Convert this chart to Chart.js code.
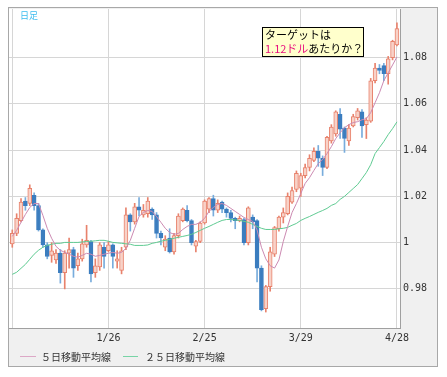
<!DOCTYPE html>
<html>
<head>
<meta charset="utf-8">
<script src="https://cdn.jsdelivr.net/npm/chart.js@4.4.1/dist/chart.umd.min.js"></script>
<style>
  html, body { margin: 0; padding: 0; background: #fff; }
</style>
</head>
<body>
<canvas id="grafico-diario" width="447" height="377"></canvas>
<script>
// DADOS
const abertura = [0.9995, 1.004, 1.0095, 1.018, 1.017, 1.0205, 1.016, 1.0055, 0.999, 0.9945,
    0.9925, 0.9955, 0.987, 0.9955, 0.997, 0.990, 0.993, 0.999, 1.0005, 0.987,
    0.9895, 0.998, 0.9965, 0.999, 0.992, 0.988, 0.998, 1.012, 1.009, 1.0155,
    1.012, 1.0125, 1.0145, 1.012, 1.004, 0.998, 1.002, 0.996, 1.003, 1.0095,
    1.014, 1.0095, 0.9985, 1.0005, 1.0085, 1.0145, 1.019, 1.014, 1.0175, 1.0145,
    1.013, 1.0105, 1.0095, 1.010, 1.0, 1.011, 1.0095, 0.989, 0.9715, 0.981,
    0.995, 1.006, 1.011, 1.0125, 1.0175, 1.023, 1.0235, 1.029, 1.0325, 1.0355,
    1.0395, 1.0365, 1.0325, 1.044, 1.047, 1.0555, 1.0495, 1.044, 1.0505, 1.054,
    1.0565, 1.051, 1.0525, 1.070, 1.0755, 1.0765, 1.073, 1.080, 1.0855]
const maxima = [1.0055, 1.0125, 1.019, 1.0195, 1.025, 1.0215, 1.017, 1.006, 1.0, 1.0,
    0.997, 0.997, 0.9965, 1.002, 0.998, 0.9955, 1.0015, 1.0075, 1.001, 0.993,
    1.0, 1.0, 1.0005, 0.9995, 0.9965, 0.998, 1.015, 1.0125, 1.017, 1.0195,
    1.0165, 1.0195, 1.015, 1.013, 1.005, 1.003, 1.006, 1.004, 1.0125, 1.015,
    1.016, 1.010, 1.001, 1.009, 1.0185, 1.0195, 1.0205, 1.0185, 1.018, 1.015,
    1.014, 1.011, 1.0115, 1.0105, 1.0155, 1.012, 1.010, 0.990, 0.9815, 0.998,
    1.007, 1.0115, 1.015, 1.0215, 1.024, 1.031, 1.030, 1.034, 1.038, 1.041,
    1.042, 1.0375, 1.046, 1.051, 1.057, 1.058, 1.050, 1.051, 1.0555, 1.058,
    1.0575, 1.054, 1.071, 1.0775, 1.077, 1.0775, 1.0805, 1.0875, 1.095]
const minima = [0.998, 1.003, 1.009, 1.014, 1.016, 1.014, 1.005, 0.998, 0.993, 0.9915,
    0.991, 0.9825, 0.980, 0.989, 0.985, 0.988, 0.992, 0.998, 0.983, 0.985,
    0.988, 0.989, 0.996, 0.989, 0.989, 0.9865, 0.997, 1.005, 1.008, 1.0115,
    1.011, 1.011, 1.010, 1.002, 0.999, 0.9965, 0.9955, 0.995, 1.002, 1.009,
    1.009, 0.999, 0.996, 1.0, 1.008, 1.013, 1.0115, 1.013, 1.013, 1.011,
    1.009, 1.006, 1.009, 0.999, 0.999, 1.006, 0.983, 0.9705, 0.970, 0.979,
    0.994, 1.005, 1.0085, 1.012, 1.017, 1.022, 1.020, 1.028, 1.031, 1.035,
    1.033, 1.029, 1.032, 1.043, 1.046, 1.045, 1.039, 1.042, 1.050, 1.053,
    1.0455, 1.045, 1.052, 1.069, 1.073, 1.070, 1.0685, 1.079, 1.085]
const fechamento = [1.004, 1.0105, 1.0175, 1.016, 1.0235, 1.016, 1.0055, 0.999, 0.994, 0.9965,
    0.9955, 0.987, 0.9955, 0.997, 0.989, 0.993, 0.9995, 1.001, 0.9865, 0.990,
    0.999, 0.994, 0.999, 0.994, 0.993, 0.9965, 1.012, 1.009, 1.0155, 1.014,
    1.014, 1.018, 1.012, 1.004, 1.002, 1.0015, 0.996, 1.003, 1.0115, 1.0145,
    1.0095, 1.0, 1.0005, 1.0085, 1.018, 1.019, 1.014, 1.017, 1.0145, 1.013,
    1.0105, 1.0095, 1.0105, 1.0, 1.015, 1.009, 0.989, 0.971, 0.981, 0.996,
    1.0065, 1.011, 1.013, 1.020, 1.0225, 1.030, 1.029, 1.0325, 1.0365, 1.0395,
    1.0365, 1.0325, 1.0455, 1.050, 1.0565, 1.049, 1.045, 1.0495, 1.0545, 1.057,
    1.0505, 1.053, 1.070, 1.0755, 1.0745, 1.073, 1.0795, 1.087, 1.0925]
const media5 = [1.0027, 1.0053, 1.0088, 1.0122, 1.0152, 1.0169, 1.0169, 1.0118, 1.0062, 1.0019,
    0.9984, 0.9967, 0.9958, 0.995, 0.9941, 0.9937, 0.9945, 0.9954, 0.995, 0.9941,
    0.9945, 0.995, 0.9954, 0.9958, 0.9954, 0.9958, 0.9975, 1.001, 1.0062, 1.0113,
    1.0131, 1.0139, 1.0135, 1.0113, 1.0088, 1.0062, 1.0044, 1.0036, 1.004, 1.0057,
    1.007, 1.0079, 1.0079, 1.0088, 1.0105, 1.0135, 1.0152, 1.0165, 1.0169, 1.0161,
    1.0148, 1.0135, 1.0122, 1.0109, 1.010, 1.0092, 1.0055, 0.998, 0.993, 0.990,
    0.989, 0.9925, 1.0005, 1.007, 1.013, 1.0169, 1.0212, 1.0256, 1.0281, 1.0312,
    1.0342, 1.0359, 1.0385, 1.0415, 1.045, 1.0475, 1.0497, 1.051, 1.0519, 1.0523,
    1.0531, 1.0536, 1.0562, 1.0605, 1.0648, 1.070, 1.0734, 1.0768, 1.0803]
const media25 = [0.9863, 0.9872, 0.9889, 0.9906, 0.9928, 0.995, 0.9967, 0.998, 0.9988, 0.9993,
    0.9997, 0.9997, 1.0001, 1.0001, 1.0001, 1.0001, 1.0003, 1.0005, 1.0006, 1.0008,
    1.001, 1.001, 1.0006, 1.0001, 0.9999, 0.9997, 0.9995, 0.9993, 0.9988, 0.9988,
    0.9988, 0.999, 0.9997, 1.0001, 1.0006, 1.001, 1.0014, 1.0019, 1.0023, 1.0027,
    1.0031, 1.0036, 1.0044, 1.0053, 1.0062, 1.007, 1.0079, 1.0088, 1.0096, 1.010,
    1.010, 1.0098, 1.0096, 1.0092, 1.0088, 1.0079, 1.007, 1.0062, 1.0057, 1.0057,
    1.0057, 1.006, 1.0062, 1.0066, 1.0075, 1.0083, 1.0096, 1.0105, 1.0113, 1.0122,
    1.0131, 1.0139, 1.0148, 1.0161, 1.0169, 1.0187, 1.020, 1.0217, 1.0234, 1.0251,
    1.0277, 1.0303, 1.0337, 1.0385, 1.0411, 1.0437, 1.0467, 1.0493, 1.0522]

const posicoesX = [0, 22, 44, 66, 88]
const rotulosX = ['', '1/26', '2/25', '3/29', '4/28']
const valoresY = [0.98, 1.0, 1.02, 1.04, 1.06, 1.08]
const rotulosY = ['0.98', '1', '1.02', '1.04', '1.06', '1.08']

// CORES
const corSobeBorda = '#e8826c'
const corSobeFundo = '#f8d2c8'
const corDesceFundo = '#3b7dbf'
const corDescePavio = '#78acdc'
const corMedia5 = '#cc8ab2'
const corMedia25 = '#5fcb92'

const sobe = i => fechamento[i] >= abertura[i]

var graficoCtx = document.getElementById('grafico-diario').getContext('2d');

var dataGrafico = {
    datasets: [{
        label: '５日移動平均線',
        type: 'line',
        data: media5.map((v, i) => ({ x: i, y: v })),
        borderColor: corMedia5,
        borderWidth: 1,
        pointRadius: 0,
        fill: false,
        order: 0
    }, {
        label: '２５日移動平均線',
        type: 'line',
        data: media25.map((v, i) => ({ x: i, y: v })),
        borderColor: corMedia25,
        borderWidth: 1,
        pointRadius: 0,
        fill: false,
        order: 1
    }, {
        label: 'corpo',
        type: 'bar',
        data: abertura.map((o, i) => ({ x: i, y: [o, fechamento[i]] })),
        backgroundColor: c => sobe(c.dataIndex) ? corSobeFundo : corDesceFundo,
        borderColor: c => sobe(c.dataIndex) ? corSobeBorda : corDesceFundo,
        borderWidth: 1,
        borderSkipped: false,
        barThickness: 4,
        grouped: false,
        order: 2
    }, {
        label: 'pavio',
        type: 'bar',
        data: minima.map((l, i) => ({ x: i, y: [l, maxima[i]] })),
        backgroundColor: c => sobe(c.dataIndex) ? corSobeBorda : corDescePavio,
        borderWidth: 0,
        barThickness: 1,
        grouped: false,
        order: 3
    }]
};

const fonteEixo = { family: 'DejaVu Sans Mono', size: 10 }

var optionsGrafico = {
    responsive: false,
    animation: false,
    devicePixelRatio: 1,
    layout: {
        padding: { left: 9, top: 8, right: 0, bottom: 29 }
    },
    scales: {
        x: {
            type: 'linear',
            min: -0.75,
            max: 88.7,
            offset: false,
            afterBuildTicks: s => { s.ticks = posicoesX.map(v => ({ value: v })) },
            afterFit: s => { s.height = 20 },
            ticks: {
                autoSkip: false,
                maxRotation: 0,
                padding: 4,
                color: '#333',
                font: fonteEixo,
                callback: (v, i) => rotulosX[i]
            },
            grid: { color: '#d6d6d6', drawTicks: false, offset: false },
            border: { color: '#a0a0a0', width: 1 }
        },
        y: {
            type: 'linear',
            position: 'right',
            min: 0.9631,
            max: 1.101,
            afterBuildTicks: s => { s.ticks = valoresY.map(v => ({ value: v })) },
            afterFit: s => { s.width = 47 },
            ticks: {
                padding: 3,
                color: '#333',
                font: fonteEixo,
                callback: (v, i) => rotulosY[i]
            },
            grid: { color: '#d6d6d6', drawTicks: false },
            border: { color: '#a0a0a0', width: 1 }
        }
    },
    plugins: {
        legend: { display: false },
        tooltip: { enabled: false }
    }
};

// fundo cinza, moldura, legenda e caixa de texto
const molduraPlugin = {
    id: 'moldura',
    beforeDraw(chart) {
        const c = chart.ctx, a = chart.chartArea
        c.save()
        c.fillStyle = '#fff'
        c.fillRect(0, 0, chart.width, chart.height)
        c.fillStyle = '#f0f0f0'
        c.fillRect(8, 7, 430, 360)
        c.strokeStyle = '#a8a8a8'
        c.lineWidth = 1
        c.strokeRect(8.5, 7.5, 429, 359)
        c.fillStyle = '#fff'
        c.fillRect(a.left, a.top, a.right - a.left, a.bottom - a.top)
        c.restore()
    },
    afterDraw(chart) {
        const c = chart.ctx
        c.save()
        // 日足
        c.font = '9px "Noto Sans CJK JP"'
        c.fillStyle = '#3bbcef'
        c.textBaseline = 'middle'
        c.fillText('日足', 20, 16)

        // legenda
        c.font = '10px "Noto Sans CJK JP"'
        c.lineWidth = 1
        c.strokeStyle = '#dca8c6'
        c.beginPath(); c.moveTo(20, 356.5); c.lineTo(36, 356.5); c.stroke()
        c.fillStyle = '#333'
        c.fillText(dataGrafico.datasets[0].label, 41, 357)
        c.strokeStyle = '#78d4a6'
        c.beginPath(); c.moveTo(123, 356.5); c.lineTo(138, 356.5); c.stroke()
        c.fillText(dataGrafico.datasets[1].label, 145, 357)

        // caixa
        c.fillStyle = '#ffffcc'
        c.fillRect(262, 27, 102, 30)
        c.strokeStyle = '#000'
        c.strokeRect(262.5, 27.5, 101, 29)
        c.font = '11px "Noto Sans CJK JP"'
        c.fillStyle = '#000'
        c.fillText('ターゲットは', 265, 35)
        c.fillStyle = '#e8107f'
        c.fillText('1.12ドル', 265, 49)
        const w = c.measureText('1.12ドル').width
        c.fillStyle = '#000'
        c.fillText('あたりか？', 265 + w, 49)
        c.restore()
    }
}

var graficoDiario = new Chart(graficoCtx, {
    type: 'bar',
    data: dataGrafico,
    options: optionsGrafico,
    plugins: [molduraPlugin]
});
</script>
</body>
</html>
